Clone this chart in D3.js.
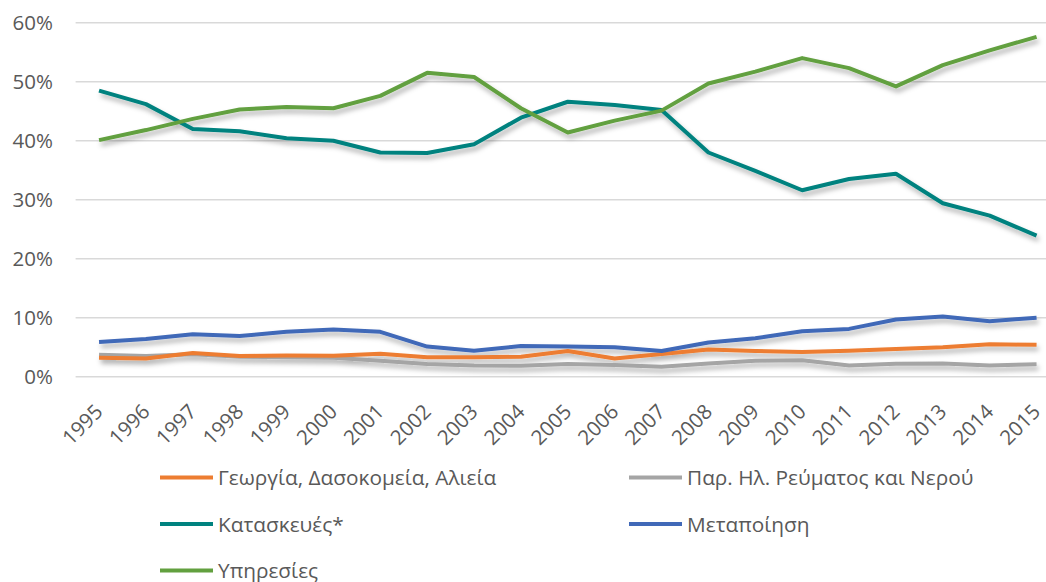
<!DOCTYPE html>
<html>
<head>
<meta charset="utf-8">
<script src="https://cdn.jsdelivr.net/npm/d3@7"></script>
<style>
  body { margin: 0; background: #fff; }
  text { font-family: "Open Sans", sans-serif; fill: #595959; }
</style>
</head>
<body>
<svg width="1046" height="582"></svg>
<script>
const years = [1995, 1996, 1997, 1998, 1999, 2000, 2001, 2002, 2003, 2004, 2005,
  2006, 2007, 2008, 2009, 2010, 2011, 2012, 2013, 2014, 2015];

const agriculture = [3.2, 3.1, 4.0, 3.5, 3.6, 3.55, 3.9, 3.3, 3.3, 3.4, 4.35,
  3.1, 3.85, 4.6, 4.35, 4.2, 4.4, 4.7, 5.0, 5.5, 5.4];
const utilities = [3.7, 3.5, 3.8, 3.4, 3.3, 3.2, 2.7, 2.15, 1.9, 1.85, 2.15,
  2.0, 1.7, 2.25, 2.7, 2.8, 1.9, 2.2, 2.25, 1.9, 2.1];
const construction = [48.5, 46.2, 42.0, 41.6, 40.4, 40.0, 38.0, 37.9, 39.4, 43.9, 46.6,
  46.05, 45.2, 38.0, 34.9, 31.6, 33.5, 34.4, 29.4, 27.3, 23.9];
const manufacturing = [5.9, 6.4, 7.2, 6.9, 7.6, 8.0, 7.6, 5.1, 4.4, 5.2, 5.1,
  5.0, 4.35, 5.8, 6.5, 7.7, 8.1, 9.7, 10.2, 9.4, 10.0];
const services = [40.1, 41.8, 43.7, 45.3, 45.7, 45.5, 47.6, 51.5, 50.8, 45.5, 41.4,
  43.4, 45.1, 49.7, 51.7, 54.0, 52.3, 49.2, 52.8, 55.3, 57.6];

const yTicks = [0, 10, 20, 30, 40, 50, 60];

const series = [
  { name: "Γεωργία, Δασοκομεία, Αλιεία", values: agriculture, color: "#ED7D31" },
  { name: "Παρ. Ηλ. Ρεύματος και Νερού", values: utilities, color: "#A5A5A5" },
  { name: "Κατασκευές*", values: construction, color: "#00827F" },
  { name: "Μεταποίηση", values: manufacturing, color: "#4169B8" },
  { name: "Υπηρεσίες", values: services, color: "#62A03F" }
];
// draw order: grey + orange at the back, then the rest
const drawOrder = [1, 0, 3, 2, 4];

const svg = d3.select("svg");

const xScale = d3.scaleBand().domain(years).range([75.6, 1060]);
const yScale = d3.scaleLinear().domain([0, 60]).range([376.7, 22.7]);
const xc = (d) => xScale(d) + xScale.bandwidth() / 2;

const defs = svg.append("defs");
const shadow = defs.append("filter").attr("id", "shadow")
  .attr("x", "-5%").attr("y", "-20%").attr("width", "110%").attr("height", "140%");
shadow.append("feDropShadow")
  .attr("dx", 2).attr("dy", 4).attr("stdDeviation", 2.5)
  .attr("flood-color", "#000").attr("flood-opacity", 0.3);

// gridlines
svg.append("g").selectAll("line").data(yTicks).join("line")
  .attr("x1", 75.6).attr("x2", 1060)
  .attr("y1", (d) => yScale(d)).attr("y2", (d) => yScale(d))
  .attr("stroke", "#D9D9D9").attr("stroke-width", 1.5);

// y labels
svg.append("g").selectAll("text").data(yTicks).join("text")
  .attr("x", 53).attr("y", (d) => yScale(d)).attr("dy", "0.36em")
  .attr("text-anchor", "end").style("font-size", "20.5px")
  .text((d) => d + "%");

// x labels
svg.append("g").selectAll("text").data(years).join("text")
  .attr("transform", (d) => `translate(${xc(d)},408) rotate(-45)`)
  .attr("dy", "0.35em").attr("text-anchor", "end")
  .style("font-size", "20.5px")
  .text((d) => d);

const line = d3.line()
  .x((d, i) => xc(years[i]))
  .y((d) => yScale(d));

svg.append("g").attr("filter", "url(#shadow)")
  .selectAll("path").data(drawOrder.map((i) => series[i])).join("path")
  .attr("d", (s) => line(s.values))
  .attr("fill", "none")
  .attr("stroke", (s) => s.color)
  .attr("stroke-width", 4)
  .attr("stroke-linejoin", "round");

// legend
const legendPos = [[160, 477.5], [629, 477.5], [160, 524], [629, 524], [160, 570.5]];
const legend = svg.append("g").selectAll("g").data(series).join("g")
  .attr("transform", (s, i) => `translate(${legendPos[i][0]},${legendPos[i][1]})`);
legend.append("line")
  .attr("x1", 0).attr("x2", 53)
  .attr("stroke", (s) => s.color).attr("stroke-width", 4);
legend.append("text")
  .attr("x", 58).attr("dy", "0.36em")
  .style("font-size", "20.8px")
  .text((s) => s.name);
</script>
</body>
</html>
